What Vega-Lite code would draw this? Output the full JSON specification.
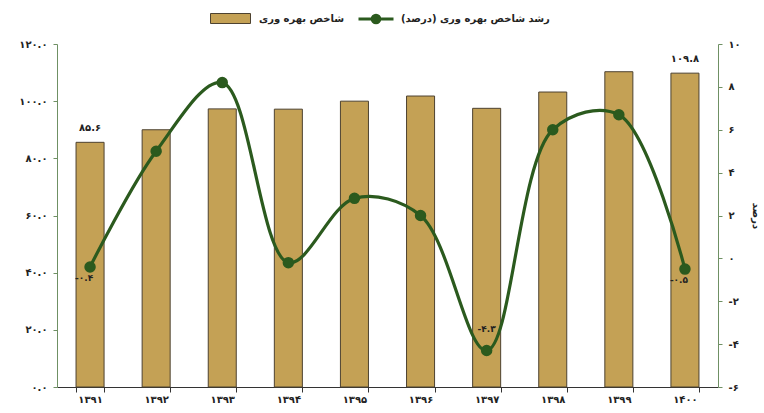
{
  "$schema": "https://vega.github.io/schema/vega-lite/v6.json",
  "autosize": {"type": "none"},
  "width": 661,
  "height": 343,
  "padding": {"left": 57, "top": 44, "right": 46, "bottom": 26},
  "background": "white",
  "config": {
    "view": {"stroke": null},
    "font": "DejaVu Sans",
    "axis": {"grid": false, "labelFont": "DejaVu Sans", "labelFontWeight": "bold", "labelFontSize": 10, "labelColor": "#222"},
    "legend": {"labelFont": "DejaVu Sans", "labelFontWeight": "bold", "labelFontSize": 10, "labelColor": "#222", "labelLimit": 400}
  },
  "data": {
    "values": [
      {"year": "۱۳۹۱", "index": 85.6, "growth": -0.4, "barLabel": "۸۵.۶", "lineLabel": "-۰.۴", "labelSide": "below"},
      {"year": "۱۳۹۲", "index": 90.0, "growth": 5.0},
      {"year": "۱۳۹۳", "index": 97.3, "growth": 8.2},
      {"year": "۱۳۹۴", "index": 97.2, "growth": -0.2},
      {"year": "۱۳۹۵", "index": 100.0, "growth": 2.8},
      {"year": "۱۳۹۶", "index": 101.8, "growth": 2.0},
      {"year": "۱۳۹۷", "index": 97.5, "growth": -4.3, "lineLabel": "-۴.۳", "labelSide": "above"},
      {"year": "۱۳۹۸", "index": 103.2, "growth": 6.0},
      {"year": "۱۳۹۹", "index": 110.3, "growth": 6.7},
      {"year": "۱۴۰۰", "index": 109.8, "growth": -0.5, "barLabel": "۱۰۹.۸", "lineLabel": "-۰.۵", "labelSide": "below"}
    ]
  },
  "encoding": {
    "x": {
      "field": "year", "type": "ordinal", "sort": null,
      "scale": {"paddingInner": 0.576, "paddingOuter": 0.288},
      "axis": {"title": null, "labelAngle": 0, "tickBand": "extent", "domainColor": "#333", "tickColor": "#333", "labelFontSize": 10, "labelPadding": 2, "tickSize": 5}
    }
  },
  "layer": [
    {
      "layer": [
        {
          "mark": {"type": "bar", "stroke": "#4d4230", "strokeWidth": 1},
          "encoding": {
            "y": {
              "field": "index", "type": "quantitative",
              "scale": {"domain": [0, 120], "nice": false},
              "axis": {
                "title": null, "orient": "left", "values": [0, 20, 40, 60, 80, 100, 120],
                "domainColor": "#6f9064", "tickColor": "#6f9064", "tickSize": 4, "labelPadding": 6,
                "labelExpr": "{'0':'۰.۰','20':'۲۰.۰','40':'۴۰.۰','60':'۶۰.۰','80':'۸۰.۰','100':'۱۰۰.۰','120':'۱۲۰.۰'}[datum.value]"
              }
            },
            "fill": {
              "datum": "شاخص بهره وری",
              "scale": {"range": ["#c4a155"]},
              "legend": {
                "title": null, "orient": "none", "legendX": 153, "legendY": -46,
                "symbolType": "M-1,-0.25H1V0.25H-1Z", "symbolSize": 1600, "symbolStrokeColor": "#4d4230", "symbolStrokeWidth": 1, "labelOffset": 8
              }
            }
          }
        },
        {
          "transform": [{"filter": "datum.barLabel != null"}],
          "mark": {"type": "text", "dy": -14, "font": "DejaVu Sans", "fontWeight": "bold", "fontSize": 10, "color": "#222"},
          "encoding": {
            "y": {"field": "index", "type": "quantitative"},
            "text": {"field": "barLabel"}
          }
        }
      ]
    },
    {
      "layer": [
        {
          "mark": {"type": "line", "interpolate": "catmull-rom", "strokeWidth": 3.2, "point": {"filled": true, "size": 90, "color": "#2b5a1e"}},
          "encoding": {
            "y": {
              "field": "growth", "type": "quantitative",
              "scale": {"domain": [-6, 10], "nice": false},
              "axis": {
                "title": "درصد", "orient": "right", "values": [-6, -4, -2, 0, 2, 4, 6, 8, 10],
                "titleAngle": 90, "titleFontSize": 10, "titleFontWeight": "bold", "titleColor": "#222", "titlePadding": 10,
                "domainColor": "#6f9064", "tickColor": "#6f9064", "tickSize": 4, "labelPadding": 6,
                "labelExpr": "{'-6':'-۶','-4':'-۴','-2':'-۲','0':'۰','2':'۲','4':'۴','6':'۶','8':'۸','10':'۱۰'}[datum.value]"
              }
            },
            "stroke": {
              "datum": "رشد شاخص بهره وری (درصد)",
              "scale": {"range": ["#2b5a1e"]},
              "legend": {
                "title": null, "orient": "none", "legendX": 300, "legendY": -44,
                "symbolType": "M-1,0H1M0.22,0A0.22,0.22,0,1,1,-0.22,0A0.22,0.22,0,1,1,0.22,0",
                "symbolSize": 1225, "symbolStrokeWidth": 3, "symbolFillColor": "#2b5a1e", "labelOffset": 6
              }
            }
          }
        },
        {
          "transform": [{"filter": "datum.labelSide == 'below'"}],
          "mark": {"type": "text", "dy": 11, "dx": -6, "font": "DejaVu Sans", "fontWeight": "bold", "fontSize": 9, "color": "#222"},
          "encoding": {
            "y": {"field": "growth", "type": "quantitative"},
            "text": {"field": "lineLabel"}
          }
        },
        {
          "transform": [{"filter": "datum.labelSide == 'above'"}],
          "mark": {"type": "text", "dy": -22, "font": "DejaVu Sans", "fontWeight": "bold", "fontSize": 9, "color": "#222"},
          "encoding": {
            "y": {"field": "growth", "type": "quantitative"},
            "text": {"field": "lineLabel"}
          }
        }
      ]
    }
  ],
  "resolve": {"scale": {"y": "independent"}}
}
